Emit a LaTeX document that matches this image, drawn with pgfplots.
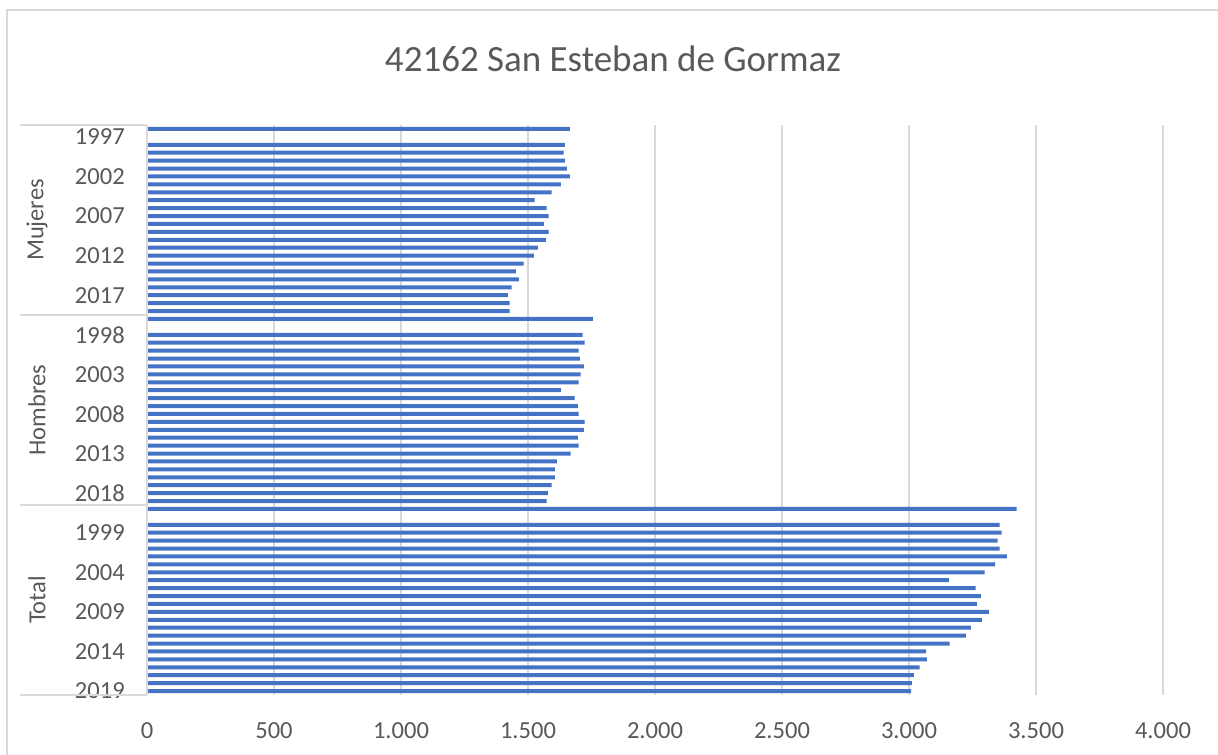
\documentclass[border=0pt]{standalone}
\usepackage{pgfplots}
\pgfplotsset{compat=1.18}
\usepackage{fontspec}
\setmainfont{Carlito}
\definecolor{barblue}{HTML}{4472C4}
\definecolor{gridgray}{HTML}{D9D9D9}
\definecolor{txtgray}{HTML}{595959}
\begin{document}
\begin{tikzpicture}
\path[use as bounding box] (0,0) rectangle (913.5pt,566.25pt);
% chart area border (left and top visible)
\draw[gridgray, line width=1.5pt] (5.25pt,0pt) -- (5.25pt,558.75pt) -- (913.5pt,558.75pt);
\node[anchor=base, font=\fontsize{27.75pt}{30pt}\selectfont, text=txtgray] at (459.75pt,512.25pt) {42162 San Esteban de Gormaz};
\begin{axis}[
  at={(110.25pt,45pt)}, anchor=south west,
  scale only axis, width=762pt, height=427.5pt,
  xmin=0, xmax=4000, ymin=-0.5, ymax=71.5,
  xtick={0,500,1000,1500,2000,2500,3000,3500,4000},
  xticklabels={0,500,1.000,1.500,2.000,2.500,3.000,3.500,4.000},
  ytick={0,5,10,15,20,25,30,35,40,45,50,55,60,65,70},
  yticklabels={2019,2014,2009,2004,1999,2018,2013,2008,2003,1998,2017,2012,2007,2002,1997},
  major tick length=0pt,
  axis line style={draw=none},
  xmajorgrids, ymajorgrids=false,
  major grid style={gridgray, line width=1.6pt},
  xticklabel style={font=\fontsize{18.4pt}{20pt}\selectfont, text=txtgray, anchor=north, inner sep=0pt, yshift=-20.25pt},
  yticklabel style={font=\fontsize{18.4pt}{20pt}\selectfont, text=txtgray, anchor=east, inner sep=0pt, xshift=-16.5pt},
  clip=false,
]
\addplot[xbar, bar width=0.5, fill=barblue, draw=none] table[x=val, y=idx] {
idx val
71 1665
69 1645
68 1640
67 1645
66 1653
65 1665
64 1629
63 1593
62 1526
61 1573
60 1581
59 1562
58 1581
57 1570
56 1539
55 1523
54 1483
53 1452
52 1464
51 1436
50 1421
49 1428
48 1428
47 1755
45 1715
44 1723
43 1699
42 1704
41 1720
40 1707
39 1699
38 1629
37 1684
36 1696
35 1699
34 1723
33 1720
32 1696
31 1699
30 1668
29 1614
28 1606
27 1606
26 1593
25 1578
24 1573
23 3424
21 3357
20 3365
19 3349
18 3357
17 3385
16 3339
15 3298
14 3157
13 3262
12 3283
11 3267
10 3314
9 3287
8 3244
7 3224
6 3160
5 3067
4 3070
3 3042
2 3019
1 3011
0 3008
};
\draw[gridgray, line width=1.5pt] (axis cs:0,71.5) -- (axis cs:0,-0.5);
\draw[gridgray, line width=1.5pt] (axis cs:0,71.5) -- ++(-95.25pt,0pt);
\draw[gridgray, line width=1.5pt] (axis cs:0,47.5) -- ++(-95.25pt,0pt);
\draw[gridgray, line width=1.5pt] (axis cs:0,23.5) -- ++(-95.25pt,0pt);
\draw[gridgray, line width=1.5pt] (axis cs:0,-0.5) -- ++(-95.25pt,0pt);
\node[rotate=90, font=\fontsize{18.4pt}{20pt}\selectfont, text=txtgray] at ([xshift=-82.5pt]axis cs:0,59.5) {Mujeres};
\node[rotate=90, font=\fontsize{18.4pt}{20pt}\selectfont, text=txtgray] at ([xshift=-82.5pt]axis cs:0,35.5) {Hombres};
\node[rotate=90, font=\fontsize{18.4pt}{20pt}\selectfont, text=txtgray] at ([xshift=-82.5pt]axis cs:0,11.5) {Total};
\end{axis}
\end{tikzpicture}
\end{document}
